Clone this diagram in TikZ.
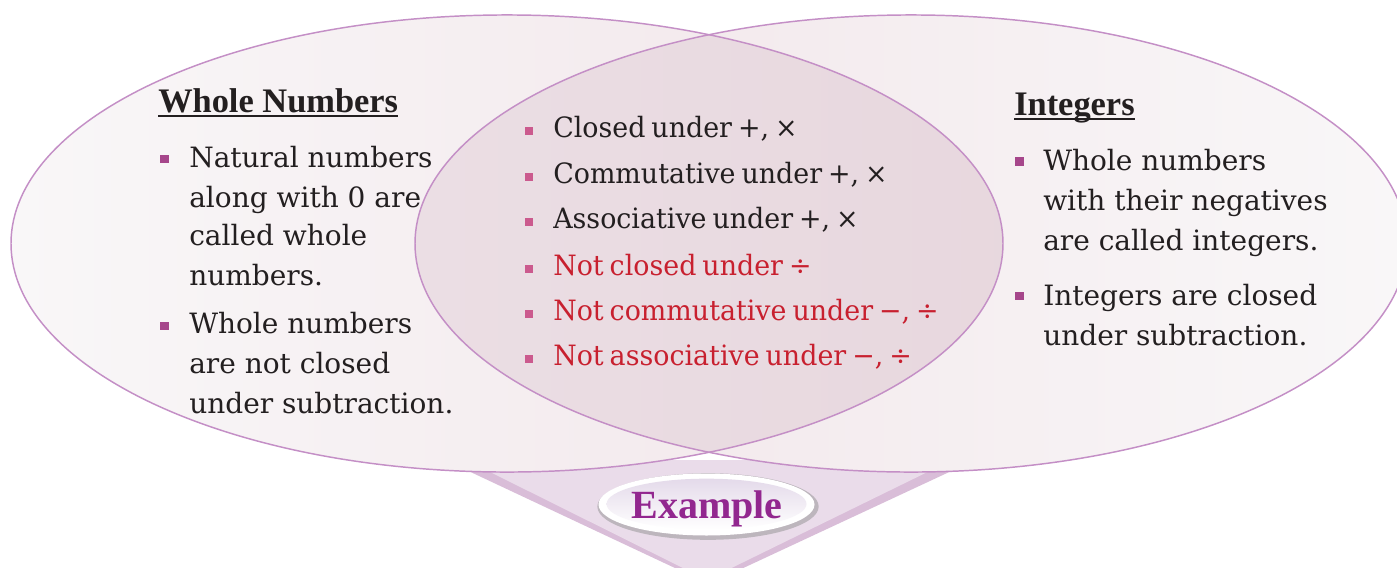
\documentclass[tikz,border=0pt]{standalone}
\usepackage{fontspec}
\setmainfont{DejaVu Serif}
\newfontfamily\headfont{Liberation Serif}
\newfontfamily\midfont{DejaVu Serif}[WordSpace=0.7, FakeStretch=0.96]
\usetikzlibrary{shapes.geometric, calc}

\definecolor{setedge}{HTML}{C48FC6}
\definecolor{paleL}{HTML}{F9F7F8}
\definecolor{paleR}{HTML}{F1E5E9}
\definecolor{lensL}{HTML}{EBDEE4}
\definecolor{lensR}{HTML}{E5D3DA}
\definecolor{inkblack}{HTML}{231F20}
\definecolor{notred}{HTML}{C8202F}
\definecolor{bulletside}{HTML}{A6468B}
\definecolor{bulletmid}{HTML}{CB5A8E}
\definecolor{vband}{HTML}{D9BDD8}
\definecolor{vfill}{HTML}{EADCEA}
\definecolor{exviolet}{HTML}{92278F}
\definecolor{ovalrim}{HTML}{BDB6BD}
\definecolor{ovaltop}{HTML}{E4DAEA}

\tikzset{
  bodytxt/.style={anchor=base west, inner sep=0pt, text=inkblack, font=\fontsize{21}{26}\selectfont},
  midtxt/.style={bodytxt, font=\midfont\fontsize{21}{26}\selectfont},
  headtxt/.style={anchor=base west, inner sep=0pt, text=inkblack, font=\headfont\bfseries\fontsize{25.8}{30}\selectfont},
  sqbullet/.style={fill=#1, minimum size=6.5pt, inner sep=0pt},
}

\begin{document}
\begin{tikzpicture}[x=0.75pt, y=-0.75pt]
        \useasboundingbox (0,0) rectangle (1397,568);

        % The V under the two sets
        \fill[vband] (445,460) -- (975,460) -- (709,584) -- cycle;
        \fill[vfill] (466,460) -- (952,460) -- (707,580) -- cycle;

        % Draw the two sets and their overlap
        \shade[left color=paleL, right color=paleR] (507,243.5) ellipse [x radius=372pt, y radius=171.4pt];
        \shade[left color=paleR, right color=paleL] (911,243.5) ellipse [x radius=372pt, y radius=171.4pt];
        \begin{scope}
            \clip (507,243.5) ellipse [x radius=372pt, y radius=171.4pt];
            \shade[left color=lensL, right color=lensR] (911,243.5) ellipse [x radius=372pt, y radius=171.4pt];
        \end{scope}
        \draw[setedge, line width=1.1pt] (507,243.5) ellipse [x radius=372pt, y radius=171.4pt];
        \draw[setedge, line width=1.1pt] (911,243.5) ellipse [x radius=372pt, y radius=171.4pt];

        % Whole numbers
        \node[headtxt] (hwhole) at (158,112) {Whole Numbers};
        \draw[inkblack, line width=1.5pt] ($(hwhole.base west)+(0,4)$) -- ($(hwhole.base east)+(0,4)$);
        \foreach \txt/\yy [count=\i] in {Natural numbers/167, along with 0 are/207, called whole/245, numbers./285, Whole numbers/333, are not closed/373, under subtraction./413}
            \node[bodytxt] (wl\i) at (189,\yy) {\txt};
        \node[sqbullet=bulletside] (wb1) at (164.5,159) {};
        \node[sqbullet=bulletside] (wb2) at (164.5,326) {};

        % Common properties
        \foreach \txt/\yy/\col [count=\i] in {{Closed under +, ×}/137/inkblack, {Commutative under +, ×}/183/inkblack, {Associative under +, ×}/228/inkblack, {Not closed under ÷}/275/notred, {Not commutative under −, ÷}/320/notred, {Not associative under −, ÷}/365/notred} {
            \node[midtxt, text=\col] (cl\i) at (553,\yy) {\txt};
            \node[sqbullet=bulletmid] (cb\i) at (529,\yy-6) {};
        }

        % Integers
        \node[headtxt] (hint) at (1014,115) {Integers};
        \draw[inkblack, line width=1.5pt] ($(hint.base west)+(0,4)$) -- ($(hint.base east)+(0,4)$);
        \foreach \txt/\yy [count=\i] in {Whole numbers/170, with their negatives/210, are called integers./250, Integers are closed/305, under subtraction./345}
            \node[bodytxt] (il\i) at (1043,\yy) {\txt};
        \node[sqbullet=bulletside] (ib1) at (1019.5,161.5) {};
        \node[sqbullet=bulletside] (ib2) at (1019.5,296) {};

        % Example tag
        \node[ellipse, fill=ovalrim, minimum width=166pt, minimum height=50pt] (exshadow) at (708,506.5) {};
        \node[ellipse, fill=white, minimum width=162pt, minimum height=46.5pt] (exoval) at (706.5,504.5) {};
        \node[ellipse, top color=ovaltop, bottom color=white, minimum width=150pt, minimum height=38pt] (exinner) at (706.5,504) {};
        \node[anchor=base, inner sep=0pt, text=exviolet, font=\headfont\bfseries\fontsize{30}{34}\selectfont] (extxt) at (707,518) {Example};
\end{tikzpicture}
\end{document}
